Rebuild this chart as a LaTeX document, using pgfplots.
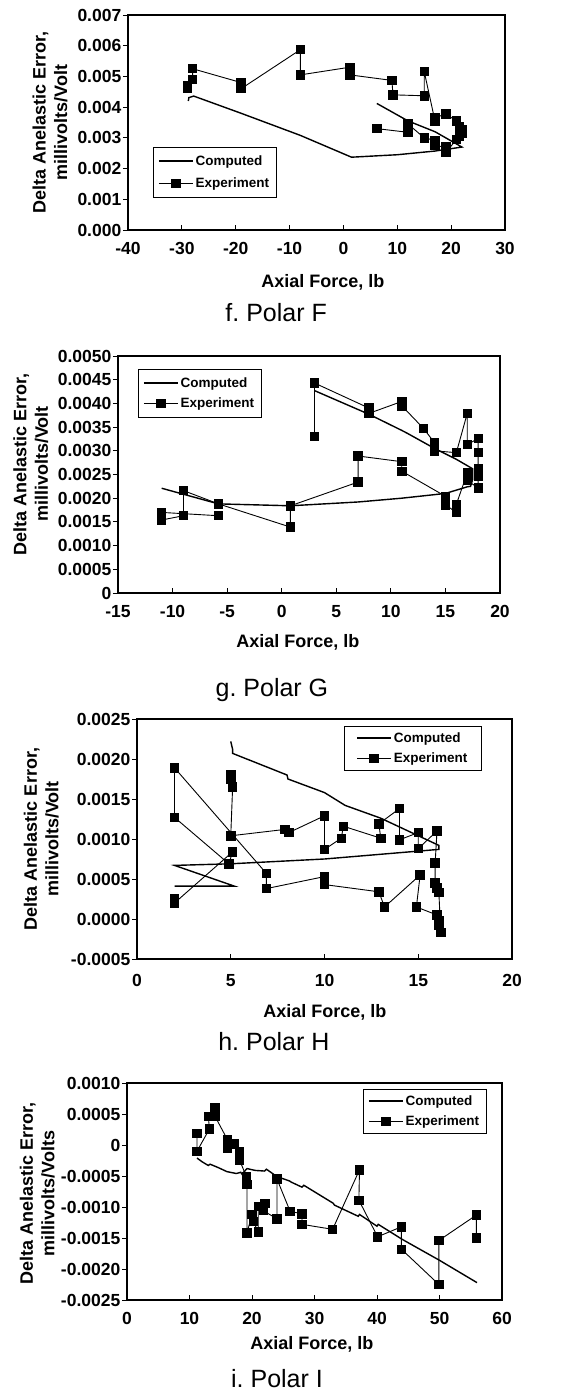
\documentclass[border=0pt]{standalone}
\usepackage{pgfplots}
\pgfplotsset{compat=1.18}
\usepackage{fontspec}
\setmainfont{Liberation Sans}
\frenchspacing
\tikzset{polarcap/.style={font=\fontsize{25}{30}\selectfont}}
\pgfplotsset{
  myax/.style={
    scale only axis,
    clip mode=individual,
    axis line style={line width=1.6pt},
    tick style={line width=0.9pt, black},
    major tick length=5pt,
    xtick align=inside, ytick align=outside,
    xtick pos=bottom, ytick pos=left,
    scaled ticks=false,
    tick label style={font=\fontsize{17.5}{20}\selectfont\bfseries},
    xticklabel style={yshift=-9pt},
    yticklabel style={inner xsep=1.5pt},
    label style={font=\fontsize{18}{21.5}\selectfont\bfseries, align=center},
    ylabel style={anchor=center},
    xlabel style={anchor=center},
    legend style={font=\fontsize{13.5}{16}\selectfont\bfseries, draw=black, line width=0.8pt, anchor=north west, cells={anchor=west}, row sep=7pt, inner ysep=6pt, inner xsep=5pt},
    legend image code/.code={\draw[mark repeat=2,mark phase=2,##1] plot coordinates {(0pt,0pt) (17pt,0pt) (34pt,0pt)};},
  },
  comp/.style={black, line width=1.4pt, mark=none},
  expt/.style={black, line width=0.9pt, mark=square*, mark size=4.2pt, mark options={solid}},
}
\begin{document}
\begin{tikzpicture}
\path[use as bounding box] (0,0) rectangle (580pt,1391pt);
% ---------------- f. Polar F
\begin{axis}[myax, at={(128pt,1161pt)}, anchor=south west, width=377pt, height=215pt,
  xmin=-40, xmax=30, ymin=0, ymax=0.007,
  xtick={-40,-30,-20,-10,0,10,20,30}, xticklabels={-40,-30,-20,-10,0,10,20,30},
  ytick={0,0.001,0.002,0.003,0.004,0.005,0.006,0.007},
  yticklabels={0.000,0.001,0.002,0.003,0.004,0.005,0.006,0.007},
  xlabel={Axial Force, lb}, ylabel={Delta Anelastic Error,\\millivolts/Volt},
  xlabel style={at={(axis description cs:0.517,-0.242)}},
  ylabel style={at={(axis description cs:-0.207,0.5)}},
  legend style={at={(0.066,0.386)}}]
\addplot[comp] coordinates {(-28.8,0.00420) (-28.7,0.00431) (-27.8,0.00436) (-19,0.00380) (-8,0.00308) (1.5,0.00237) (10,0.00245) (17,0.00257) (22,0.00270) (20.5,0.00285) (17,0.00320) (12,0.00355) (6.2,0.00412)};
\addlegendentry{Computed}
\addplot[expt] coordinates {(6.2,0.00330) (12,0.00318) (12,0.00345) (15,0.00300) (17,0.00292) (17,0.00275) (19,0.00270) (19,0.00252) (21,0.00295) (21.5,0.00305) (22,0.00315) (22,0.00326) (21.5,0.00335) (21,0.00355) (19,0.00378) (17,0.00365) (17,0.00355) (15,0.00516) (15,0.00437) (9.2,0.00440) (9,0.00487) (1.2,0.00505) (1.2,0.00530) (-8,0.00505) (-8,0.00587) (-19,0.00460) (-19,0.00480) (-28,0.00525) (-28,0.00490) (-29,0.00470) (-29,0.00460)};
\addlegendentry{Experiment}
\node[polarcap] at (axis description cs:0.393,-0.386) {f. Polar F};
\end{axis}
% ---------------- g. Polar G
\begin{axis}[myax, at={(118pt,798pt)}, anchor=south west, width=382pt, height=237pt,
  xmin=-15, xmax=20, ymin=0, ymax=0.005,
  xtick={-15,-10,-5,0,5,10,15,20}, xticklabels={-15,-10,-5,0,5,10,15,20},
  ytick={0,0.0005,0.001,0.0015,0.002,0.0025,0.003,0.0035,0.004,0.0045,0.005},
  yticklabels={0,0.0005,0.0010,0.0015,0.0020,0.0025,0.0030,0.0035,0.0040,0.0045,0.0050},
  xlabel={Axial Force, lb}, ylabel={Delta Anelastic Error,\\millivolts/Volt},
  xlabel style={at={(axis description cs:0.471,-0.207)}},
  ylabel style={at={(axis description cs:-0.228,0.544)}},
  legend style={at={(0.052,0.945)}, row sep=5pt}]
\addplot[comp] coordinates {(3.0,0.00427) (8,0.00377) (11,0.00343) (11.5,0.00337) (14,0.00305) (16,0.00282) (17.5,0.00262) (17.5,0.00240) (17.3,0.00225) (17,0.00224) (15,0.00210) (11,0.00200) (7,0.00192) (0.8,0.00184) (-5.8,0.00188) (-11,0.00221)};
\addlegendentry{Computed}
\addplot[expt] coordinates {(3.0,0.00330) (3.0,0.00443) (8.0,0.00390) (8.0,0.00379) (11.0,0.00404) (11.0,0.00395) (13.0,0.00347) (14.0,0.00317) (14.0,0.00300) (16.0,0.00296) (17.0,0.00379) (17.0,0.00313) (18.0,0.00326) (18.0,0.00296) (18.0,0.00262) (18.0,0.00246) (18.0,0.00222) (17.0,0.00237) (17.0,0.00253) (16.0,0.00187) (16.0,0.00170) (15.0,0.00186) (15.0,0.00204) (11.0,0.00257) (11.0,0.00277) (7.0,0.00289) (7.0,0.00234) (0.8,0.00184) (0.8,0.00139) (-5.8,0.00188) (-9.0,0.00216) (-9.0,0.00163) (-11.0,0.00154) (-11.0,0.00170) (-5.8,0.00163)};
\addlegendentry{Experiment}
\node[polarcap] at (axis description cs:0.403,-0.409) {g. Polar G};
\end{axis}
% ---------------- h. Polar H
\begin{axis}[myax, at={(137pt,432pt)}, anchor=south west, width=375pt, height=240pt,
  xmin=0, xmax=20, ymin=-0.0005, ymax=0.0025,
  xtick={0,5,10,15,20}, xticklabels={0,5,10,15,20},
  xticklabel style={yshift=-3pt},
  ytick={-0.0005,0,0.0005,0.001,0.0015,0.002,0.0025},
  yticklabels={-0.0005,0.0000,0.0005,0.0010,0.0015,0.0020,0.0025},
  xlabel={Axial Force, lb}, ylabel={Delta Anelastic Error,\\millivolts/Volt},
  xlabel style={at={(axis description cs:0.501,-0.221)}},
  ylabel style={at={(axis description cs:-0.255,0.5)}},
  legend style={at={(0.552,0.971)}, row sep=5pt, inner xsep=12pt, inner ysep=4pt}]
\addplot[comp] coordinates {(5.0,0.00222) (5.1,0.00212) (5.1,0.00207) (8.0,0.00180) (8.05,0.00175) (10,0.00158) (11.1,0.00142) (13,0.00126) (16.1,0.00092) (16.1,0.00087) (10,0.00075) (5,0.00069) (2.0,0.00067) (5.2,0.00041) (2.0,0.00041)};
\addlegendentry{Computed}
\addplot[expt] coordinates {(2.0,0.00025) (2.0,0.00020) (5.1,0.00084) (4.9,0.00069) (2.0,0.00127) (2.0,0.00189) (6.9,0.00057) (6.9,0.00038) (10.0,0.00053) (10.0,0.00043) (12.9,0.00034) (13.2,0.00015) (15.1,0.00055) (14.9,0.00015) (16.0,0.00005) (16.1,-0.00002) (16.1,-0.00008) (16.2,-0.00017) (16.1,0.00033) (16.0,0.00039) (15.9,0.00045) (15.9,0.00070) (16.0,0.00110) (15.0,0.00088) (15.0,0.00108) (14.0,0.00099) (14.0,0.00138) (12.9,0.00119) (13.0,0.00101) (11.0,0.00116) (10.9,0.00101) (10.0,0.00087) (10.0,0.00129) (8.1,0.00108) (7.9,0.00112) (5.0,0.00104) (5.1,0.00165) (5.0,0.00175) (5.0,0.00180)};
\addlegendentry{Experiment}
\node[polarcap] at (axis description cs:0.365,-0.346) {h. Polar H};
\end{axis}
% ---------------- i. Polar I
\begin{axis}[myax, at={(127pt,91pt)}, anchor=south west, width=375pt, height=217pt,
  xmin=0, xmax=60, ymin=-0.0025, ymax=0.001,
  xtick={0,10,20,30,40,50,60}, xticklabels={0,10,20,30,40,50,60},
  ytick={-0.0025,-0.002,-0.0015,-0.001,-0.0005,0,0.0005,0.001},
  yticklabels={-0.0025,-0.0020,-0.0015,-0.0010,-0.0005,0,0.0005,0.0010},
  xlabel={Axial Force, lb}, ylabel={Delta Anelastic Error,\\millivolts/Volts},
  xlabel style={at={(axis description cs:0.493,-0.203)}},
  ylabel style={at={(axis description cs:-0.239,0.49)}},
  legend style={at={(0.629,0.972)}, row sep=5pt, inner ysep=4pt}]
\addplot[comp] coordinates {(11.2,-0.00021) (12,-0.00027) (13,-0.00033) (13.3,-0.00031) (14.5,-0.00036) (16,-0.00043) (17.5,-0.00046) (18.2,-0.00044) (18.4,-0.00047) (19.2,-0.00038) (20.5,-0.00041) (22,-0.00042) (22.3,-0.00039) (24,-0.00051) (26,-0.00058) (26.3,-0.00060) (28,-0.00068) (28.3,-0.00065) (33,-0.00094) (33.2,-0.00097) (37,-0.00115) (37.2,-0.00112) (40,-0.00131) (40.2,-0.00128) (44,-0.00152) (50,-0.00186) (56,-0.00222)};
\addlegendentry{Computed}
\addplot[expt] coordinates {(11.2,0.00019) (11.2,-0.00010) (13.2,0.00026) (13.0,0.00046) (14.1,0.00060) (14.1,0.00046) (16.1,0.00008) (16.1,-0.00005) (17.2,0.00002) (18.0,-0.00010) (18.0,-0.00024) (19.1,-0.00051) (19.2,-0.00064) (19.2,-0.00142) (20.0,-0.00112) (20.2,-0.00123) (21.0,-0.00140) (21.0,-0.00099) (22.1,-0.00094) (21.8,-0.00106) (24.0,-0.00119) (24.0,-0.00055) (26.1,-0.00107) (28.0,-0.00111) (28.0,-0.00128) (32.9,-0.00136) (37.2,-0.00040) (37.1,-0.00089) (40.1,-0.00148) (43.9,-0.00132) (43.9,-0.00168) (49.9,-0.00225) (49.9,-0.00154) (55.9,-0.00113) (55.9,-0.00150)};
\addlegendentry{Experiment}
\node[polarcap] at (axis description cs:0.40,-0.364) {i. Polar I};
\end{axis}
\end{tikzpicture}
\end{document}
